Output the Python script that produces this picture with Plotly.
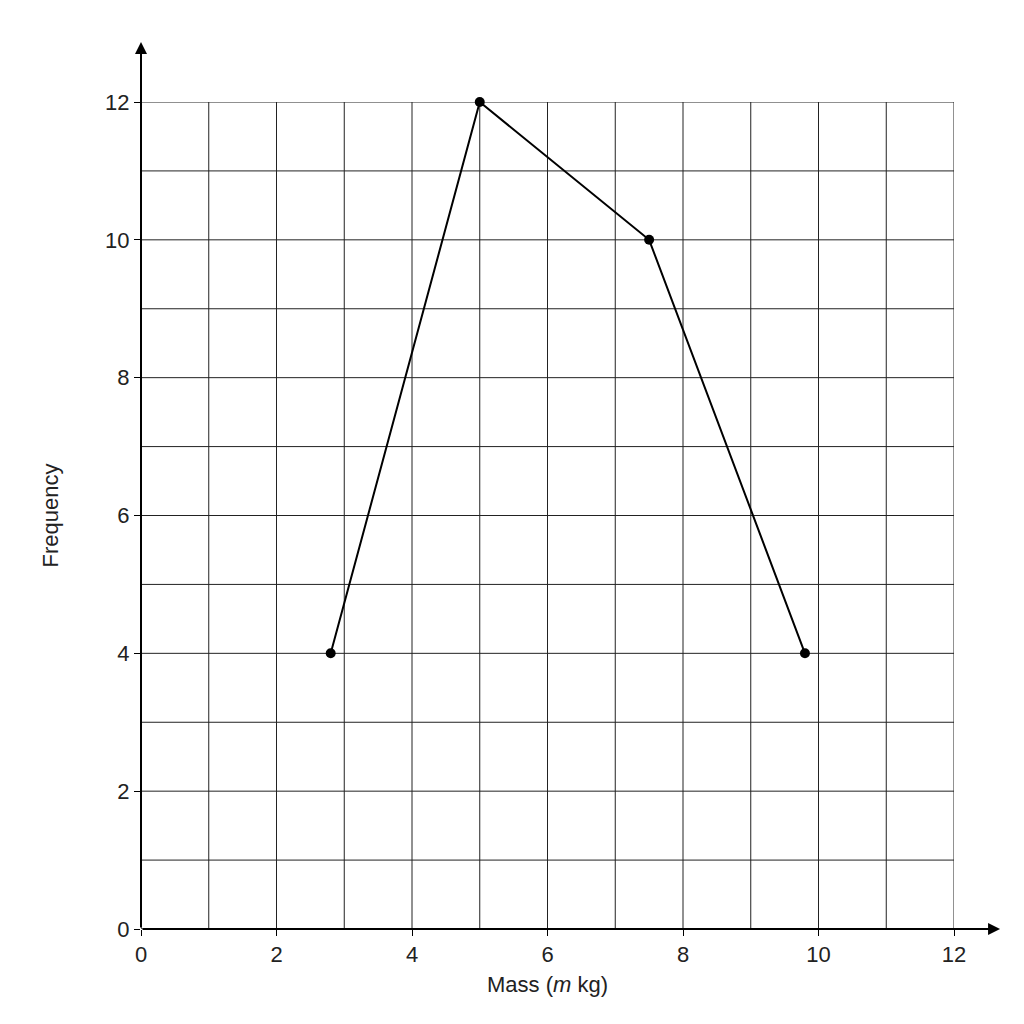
import plotly.graph_objects as go

# Frequency polygon data
mass = [2.8, 5.0, 7.5, 9.8]
frequency = [4, 12, 10, 4]
tick_vals = [0, 2, 4, 6, 8, 10, 12]

fig = go.Figure()
fig.add_trace(go.Scatter(x=mass, y=frequency, mode='lines+markers',
                         line=dict(color='black', width=2),
                         marker=dict(color='black', size=10),
                         cliponaxis=False, showlegend=False))

axis_common = dict(range=[0, 12], showgrid=False, zeroline=False, showline=False,
                   ticks='outside', ticklen=6, tickcolor='black', tickvals=tick_vals,
                   tickfont=dict(size=22, color='#222'), fixedrange=True)

fig.update_layout(
    width=1024, height=1024,
    margin=dict(l=133, r=78, t=94, b=103),
    paper_bgcolor='white', plot_bgcolor='white',
    font=dict(family='Liberation Sans, Arial, sans-serif', color='#222'),
    xaxis=dict(axis_common, title=dict(text='Mass (<i>m</i> kg)', font=dict(size=22), standoff=10)),
    yaxis=dict(axis_common, title=dict(text='Frequency', font=dict(size=22), standoff=40)),
)
# gridlines every 1 unit (tick labels only on even numbers)
for v in range(13):
    fig.add_shape(type='line', x0=v, x1=v, y0=0, y1=12, xref='x', yref='y',
                  line=dict(color='#222222', width=1), layer='below')
    fig.add_shape(type='line', x0=0, x1=12, y0=v, y1=v, xref='x', yref='y',
                  line=dict(color='#222222', width=1), layer='below')

# axis arrows
fig.add_annotation(x=0, y=12.87, ax=0, ay=0, xref='x', yref='y', axref='x', ayref='y',
                   showarrow=True, arrowhead=2, arrowsize=1.2, arrowwidth=2, arrowcolor='black', text='')
fig.add_annotation(x=12.68, y=0, ax=0, ay=0, xref='x', yref='y', axref='x', ayref='y',
                   showarrow=True, arrowhead=2, arrowsize=1.2, arrowwidth=2, arrowcolor='black', text='')

fig.write_html("out.html")
